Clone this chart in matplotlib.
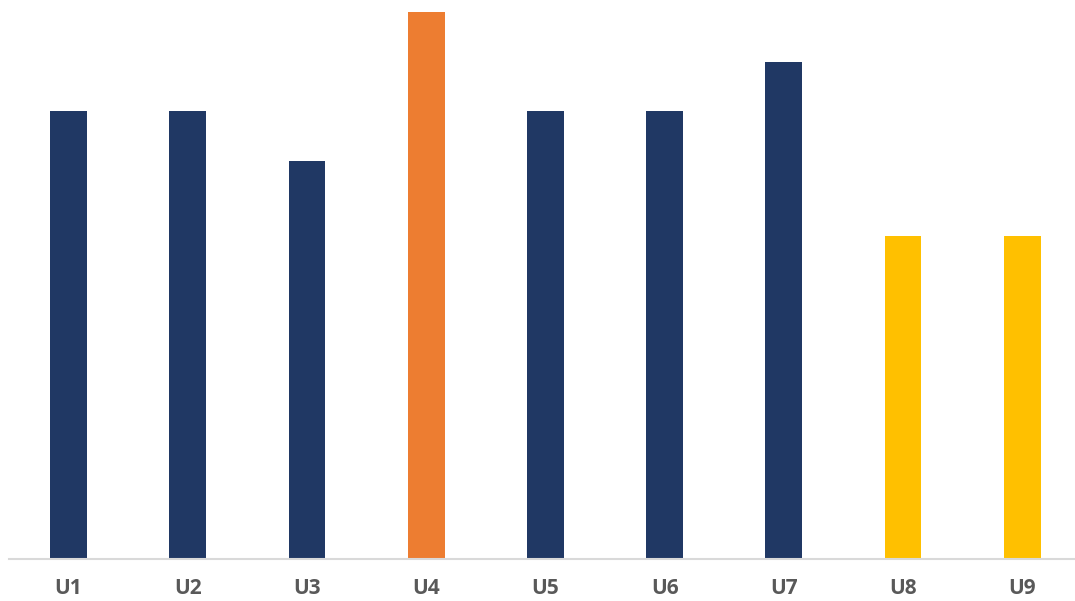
import matplotlib.pyplot as plt

categories = ["U1", "U2", "U3", "U4", "U5", "U6", "U7", "U8", "U9"]
values = [9, 9, 8, 11, 9, 9, 10, 6.5, 6.5]
colors = ["#203864", "#203864", "#203864", "#ED7D31", "#203864",
          "#203864", "#203864", "#FFC000", "#FFC000"]

W, H = 1075, 601
fig = plt.figure(figsize=(W / 100, H / 100), dpi=100)
# axes box in pixel terms: left 9, right 1075, top 12, baseline 558.5
ax = fig.add_axes([9 / W, (H - 558.5) / H, (W - 9) / W, (558.5 - 12) / H])

x = list(range(len(categories)))
ax.bar(x, values, width=0.31, color=colors, zorder=2)

ax.set_xlim(-0.5, 8.443)
ax.set_ylim(0, 11)
ax.set_xticks(x)
ax.set_xticklabels(categories, fontsize=15, fontweight="bold",
                   color="#595959", family=["Open Sans", "DejaVu Sans"])
ax.tick_params(axis="x", length=0, pad=14)
ax.set_yticks([])

for side in ["top", "left", "right"]:
    ax.spines[side].set_visible(False)
ax.spines["bottom"].set_color("#D9D9D9")
ax.spines["bottom"].set_linewidth(1.5)
ax.spines["bottom"].set_zorder(3)

fig.savefig("out.png", dpi=100)
